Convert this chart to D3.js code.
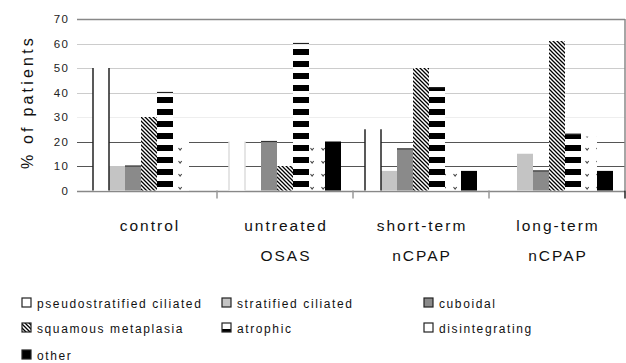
<!DOCTYPE html>
<html><head><meta charset="utf-8">
<script src="https://cdn.jsdelivr.net/npm/d3@7/dist/d3.min.js"></script>
<style>body{margin:0;background:#fff}svg{display:block;font-family:"Liberation Sans",Arial,sans-serif}</style>
</head><body>
<script>
const categories = [["control"], ["untreated", "OSAS"], ["short-term", "nCPAP"], ["long-term", "nCPAP"]];
const series = ["pseudostratified ciliated", "stratified ciliated", "cuboidal", "squamous metaplasia", "atrophic", "disintegrating", "other"];
const pseudostratified = [50, 20, 25, 0];
const stratified = [10, 0, 8, 15];
const cuboidal = [10, 20, 17, 8];
const squamous = [30, 10, 50, 61];
const atrophic = [40, 60, 42, 23];
const disintegrating = [20, 20, 8, 22];
const other = [0, 20, 8, 8];
const yTicks = [0, 10, 20, 30, 40, 50, 60, 70];
const values = [pseudostratified, stratified, cuboidal, squamous, atrophic, disintegrating, other];

const W = 626, H = 363;
const svg = d3.select("body").append("svg").attr("width", W).attr("height", H);
const defs = svg.append("defs");

// patterns
const ph = defs.append("pattern").attr("id", "hatch").attr("patternUnits", "userSpaceOnUse").attr("width", 4).attr("height", 4);
ph.append("rect").attr("width", 4).attr("height", 4).attr("fill", "#fff");
ph.append("path").attr("d", "M-1,-1L5,5M3,-1L5,1M-1,3L1,5").attr("stroke", "#000").attr("stroke-width", 1.3);
const ps = defs.append("pattern").attr("id", "stripes").attr("patternUnits", "userSpaceOnUse").attr("width", 16).attr("height", 12).attr("y", 1);
ps.append("rect").attr("width", 16).attr("height", 12).attr("fill", "#fff");
ps.append("rect").attr("width", 16).attr("height", 6).attr("fill", "#000");
const pd = defs.append("pattern").attr("id", "dots").attr("patternUnits", "userSpaceOnUse").attr("width", 11).attr("height", 13).attr("x", 2);
pd.append("rect").attr("width", 11).attr("height", 13).attr("fill", "#fff");
pd.append("path").attr("d", "M0.5,5l1.6,2l1.6,-2").attr("stroke", "#444").attr("fill", "none").attr("stroke-width", 1.1);

const fills = ["#fff", "#c4c4c4", "#8a8a8a", "url(#hatch)", "url(#stripes)", "url(#dots)", "#000"];

const x0 = d3.scaleBand().domain(d3.range(categories.length)).range([81, 625]);
const x1 = d3.scaleBand().domain(series).range([0, x0.bandwidth()]).paddingInner(0).paddingOuter(0.75);
const y = d3.scaleLinear().domain([0, 70]).range([190.5, 19]);

// gridlines
const gridColor = {0: "#888", 10: "#555", 20: "#555", 30: "#eee", 40: "#ccc", 50: "#ccc", 60: "#ccc", 70: "#888"};
svg.append("g").selectAll("line").data(yTicks).join("line")
  .attr("x1", 77).attr("x2", 625)
  .attr("y1", d => Math.round(y(d)) + 0.5).attr("y2", d => Math.round(y(d)) + 0.5)
  .attr("stroke", d => gridColor[d]).attr("stroke-width", d => d === 0 || d === 70 ? 1.5 : 1.2);
svg.append("line").attr("x1", 625).attr("x2", 625).attr("y1", y(70)).attr("y2", y(0)).attr("stroke", "#888").attr("stroke-width", 1.5);

// y labels
svg.append("g").selectAll("text").data(yTicks).join("text")
  .attr("x", 69).attr("y", d => y(d) + 4).attr("text-anchor", "end")
  .attr("font-size", 11.5).attr("letter-spacing", 1.2).attr("fill", "#222").text(d => d);

// bars
const flat = [];
categories.forEach((c, i) => series.forEach((s, j) => flat.push({ci: i, s, j, v: values[j][i]})));
const barX = d => x0(d.ci) + x1(d.s);
svg.append("g").selectAll("rect").data(flat.filter(d => d.v > 0)).join("rect")
  .attr("x", barX).attr("width", x1.bandwidth())
  .attr("y", d => y(d.v)).attr("height", d => y(0) - y(d.v))
  .attr("fill", d => fills[d.j]);
// outlines
const outl = svg.append("g");
flat.filter(d => d.v > 0 && d.j === 0).forEach(d => {
  [barX(d), barX(d) + x1.bandwidth()].forEach(xx => outl.append("line")
    .attr("x1", xx).attr("x2", xx).attr("y1", y(d.v)).attr("y2", y(0))
    .attr("stroke", d.ci === 1 ? "#ddd" : "#222").attr("stroke-width", 1.5));
});
flat.filter(d => d.v > 0 && d.j === 2).forEach(d => outl.append("line")
  .attr("x1", barX(d)).attr("x2", barX(d) + x1.bandwidth()).attr("y1", y(d.v)).attr("y2", y(d.v))
  .attr("stroke", "#333").attr("stroke-width", 1.2));
flat.filter(d => d.v > 0 && d.j === 4).forEach(d => outl.append("line")
  .attr("x1", barX(d)).attr("x2", barX(d) + x1.bandwidth()).attr("y1", y(d.v)).attr("y2", y(d.v))
  .attr("stroke", "#222").attr("stroke-width", 1.2));

// bottom axis ticks
svg.append("g").selectAll("line").data(d3.range(1, categories.length + 1)).join("line")
  .attr("x1", d => d === categories.length ? 625 : x0(d)).attr("x2", d => d === categories.length ? 625 : x0(d))
  .attr("y1", y(0)).attr("y2", y(0) + 8)
  .attr("stroke", d => d === categories.length ? "#222" : "#999").attr("stroke-width", 1.5);

// category labels
const cl = svg.append("g").selectAll("text").data(categories).join("text")
  .attr("x", (d, i) => x0(i) + x0.bandwidth() / 2 + 1).attr("y", 231)
  .attr("text-anchor", "middle").attr("font-size", 15.5).attr("letter-spacing", 2).attr("fill", "#111");
cl.selectAll("tspan").data(d => d).join("tspan")
  .attr("x", function () { return d3.select(this.parentNode).attr("x"); })
  .attr("dy", (d, i) => i === 0 ? 0 : 30).text(d => d);

// y title
svg.append("text").attr("transform", "translate(33,102) rotate(-90)")
  .attr("text-anchor", "middle").attr("font-size", 16).attr("letter-spacing", 3.2).attr("fill", "#111")
  .text("% of patients");

// legend
const legCols = [22, 222, 424], legRows = [303, 328, 355];
const lg = svg.append("g").selectAll("g").data(series).join("g")
  .attr("transform", (d, i) => `translate(${legCols[i % 3]},${legRows[Math.floor(i / 3)]})`);
lg.append("rect").attr("x", 0).attr("y", -5).attr("width", 9).attr("height", 9)
  .attr("fill", (d, i) => fills[i]).attr("stroke", "#222").attr("stroke-width", 1.2);
lg.append("text").attr("x", 15).attr("y", 4.5).attr("font-size", 12).attr("letter-spacing", 1.6)
  .attr("fill", "#111").text(d => d);
</script>
</body></html>
